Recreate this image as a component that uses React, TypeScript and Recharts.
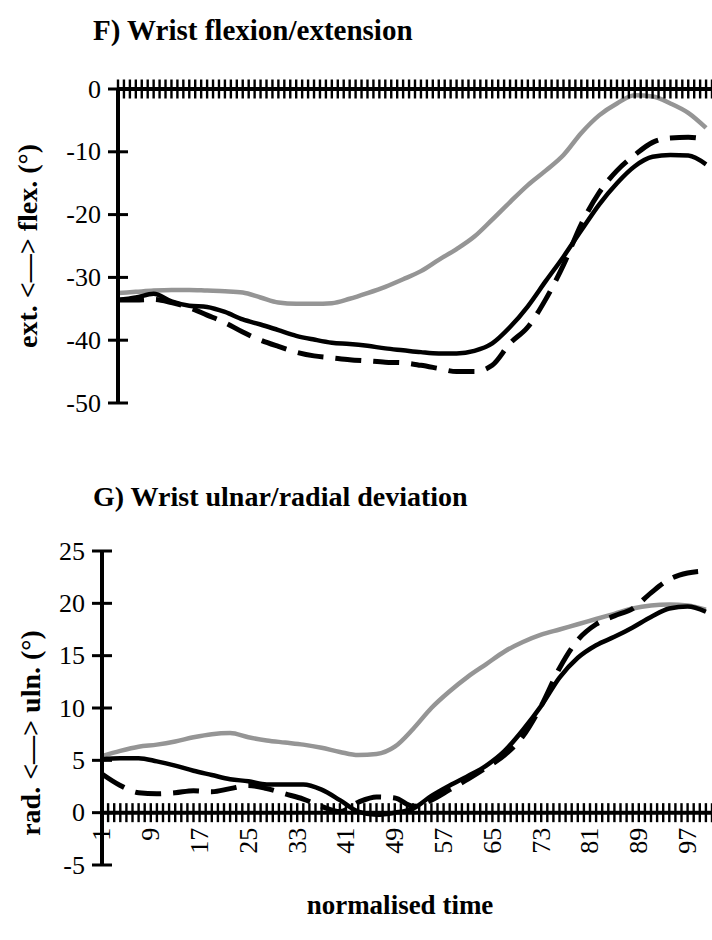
import React from "react";
import { ComposedChart, Line, XAxis, YAxis, ReferenceLine, Scatter } from "recharts";

// sample times (normalised time, %)
const TIME = [1, 4, 7, 10, 13, 16, 19, 22, 25, 28, 31, 34, 37, 40, 43, 46, 49, 52, 55, 58, 61, 64, 67, 70, 73, 76, 79, 82, 85, 88, 91, 94, 97, 100];

// F) Wrist flexion/extension
const FLEX_GRAY = [-32.5, -32.3, -32.1, -32.0, -32.0, -32.1, -32.2, -32.4, -33.2, -34.0, -34.2, -34.2, -34.1, -33.4, -32.5, -31.5, -30.3, -29.0, -27.2, -25.5, -23.5, -20.8, -18.0, -15.3, -13.0, -10.5, -7.0, -4.2, -2.3, -1.0, -1.2, -2.3, -3.8, -6.2];
const FLEX_SOLID = [-33.6, -33.2, -32.6, -33.8, -34.5, -34.7, -35.5, -36.7, -37.5, -38.4, -39.3, -39.9, -40.4, -40.6, -40.9, -41.3, -41.6, -41.9, -42.1, -42.1, -41.7, -40.5, -37.9, -34.6, -30.6, -26.7, -22.5, -18.4, -15.0, -12.3, -10.8, -10.5, -10.6, -12.0];
const FLEX_DASHED = [-33.6, -33.6, -33.5, -34.0, -34.8, -36.0, -37.2, -38.7, -40.0, -41.0, -41.9, -42.5, -42.8, -43.1, -43.3, -43.5, -43.6, -44.0, -44.5, -45.0, -45.0, -44.0, -40.5, -37.9, -33.5, -28.0, -21.5, -16.5, -13.0, -10.5, -8.5, -7.8, -7.7, -8.0];

// G) Wrist ulnar/radial deviation
const DEV_GRAY = [5.4, 5.9, 6.3, 6.5, 6.8, 7.2, 7.5, 7.6, 7.2, 6.9, 6.7, 6.5, 6.2, 5.8, 5.5, 5.6, 6.3, 8.0, 10.0, 11.6, 13.0, 14.2, 15.4, 16.3, 17.0, 17.5, 18.0, 18.5, 19.0, 19.5, 19.8, 19.9, 19.8, 19.4];
const DEV_SOLID = [5.1, 5.2, 5.2, 4.9, 4.5, 4.0, 3.6, 3.2, 3.0, 2.7, 2.7, 2.7, 2.2, 1.2, 0.1, -0.2, 0.0, 0.4, 1.6, 2.6, 3.5, 4.5, 5.9, 7.9, 10.2, 12.9, 14.8, 16.0, 16.8, 17.7, 18.7, 19.5, 19.7, 19.2];
const DEV_DASHED = [3.7, 2.6, 1.9, 1.8, 1.9, 2.1, 2.0, 2.3, 2.6, 2.3, 1.8, 1.3, 0.6, 0.1, 1.0, 1.5, 1.4, 0.6, 1.2, 2.2, 3.2, 4.3, 5.5, 7.3, 10.2, 13.8, 16.5, 18.0, 18.8, 19.5, 21.0, 22.3, 22.9, 23.1];

// axis ticks
const FLEX_YTICKS = [-50, -40, -30, -20, -10, 0];
const DEV_YTICKS = [-5, 0, 5, 10, 15, 20, 25];
const X_CATEGORIES = Array.from({ length: 101 }, (_, i) => i + 1);
const X_TICK_LABELS = ["1", "9", "17", "25", "33", "41", "49", "57", "65", "73", "81", "89", "97"];

const FONT = '"Liberation Serif", "Times New Roman", serif';

const flexRows = TIME.map((t, i) => ({ t, gray: FLEX_GRAY[i], solid: FLEX_SOLID[i], dashed: FLEX_DASHED[i] }));
const devRows = TIME.map((t, i) => ({ t, gray: DEV_GRAY[i], solid: DEV_SOLID[i], dashed: DEV_DASHED[i] }));
const tickRows = X_CATEGORIES.map((t) => ({ t, zero: 0 }));

const YTick = (props: any) => {
  const { x, y, payload } = props;
  return (
    <g>
      <line x1={x - 10} x2={x + 10} y1={y} y2={y} stroke="#000" strokeWidth={3} />
      <text x={x - 17} y={y} textAnchor="end" dominantBaseline="central" fontSize={26} fontFamily={FONT} fill="#000">
        {payload.value}
      </text>
    </g>
  );
};

const makeXTick = (withLabels: boolean) => (props: any) => {
  const { cx, cy, payload } = props;
  const lbl = String(payload.t);
  const show = withLabels && X_TICK_LABELS.includes(lbl);
  return (
    <g>
      <line x1={cx} x2={cx} y1={cy - 9.5} y2={cy + 9.5} stroke="#000" strokeWidth={2.4} />
      {show ? (
        <text
          x={cx}
          y={cy + 15}
          transform={`rotate(-90 ${cx} ${cy + 15})`}
          textAnchor="end"
          dominantBaseline="central"
          fontSize={26}
          fontFamily={FONT}
          fill="#000"
        >
          {lbl}
        </text>
      ) : null}
    </g>
  );
};

const TopTick = makeXTick(false);
const BottomTick = makeXTick(true);

const Lbl = ({ x, y, rot, size, center, children }: any) => (
  <div
    style={{
      position: "absolute",
      left: x,
      top: y,
      transform: `${center ? "translate(-50%,-50%)" : "translateY(-50%)"}${rot ? " rotate(-90deg)" : ""}`,
      fontSize: size,
      fontWeight: "bold",
      whiteSpace: "nowrap",
      fontFamily: FONT,
      lineHeight: 1,
      color: "#000",
    }}
  >
    {children}
  </div>
);

const series = (keyPrefix: string) => [
  <Line key={keyPrefix + "g"} type="monotone" dataKey="gray" stroke="#959595" strokeWidth={4.5} dot={false} isAnimationActive={false} />,
  <Line key={keyPrefix + "s"} type="monotone" dataKey="solid" stroke="#000" strokeWidth={4.5} dot={false} isAnimationActive={false} />,
  <Line key={keyPrefix + "d"} type="monotone" dataKey="dashed" stroke="#000" strokeWidth={5} strokeDasharray="26 12" dot={false} isAnimationActive={false} />,
];

export default function App() {
  return (
    <div style={{ position: "absolute", left: 0, top: 0, width: 712, height: 940, background: "#fff", overflow: "hidden" }}>
      <Lbl x={93} y={30} size={29}>F) Wrist flexion/extension</Lbl>
      <Lbl x={28} y={246} size={28} rot center>ext. &lt;—&gt; flex. (°)</Lbl>
      <div style={{ position: "absolute", left: 0, top: 0 }}>
        <ComposedChart width={712} height={440} data={flexRows} margin={{ top: 89, right: 0, bottom: 37, left: 0 }}>
          <XAxis type="number" dataKey="t" domain={[1, 101]} hide />
          <YAxis
            type="number"
            domain={[-50, 0]}
            ticks={FLEX_YTICKS}
            width={118}
            axisLine={{ stroke: "#000", strokeWidth: 4 }}
            tickLine={false}
            tickSize={0}
            tickMargin={0}
            tick={<YTick />}
            interval={0}
          />
          <ReferenceLine y={0} stroke="#000" strokeWidth={4} />
          <Scatter data={tickRows} dataKey="zero" shape={TopTick} isAnimationActive={false} />
          {series("f")}
        </ComposedChart>
      </div>

      <Lbl x={93} y={497} size={28}>G) Wrist ulnar/radial deviation</Lbl>
      <Lbl x={31} y={733} size={28} rot center>rad. &lt;—&gt; uln. (°)</Lbl>
      <div style={{ position: "absolute", left: 0, top: 460 }}>
        <ComposedChart width={712} height={440} data={devRows} margin={{ top: 91, right: 0, bottom: 35, left: 0 }}>
          <XAxis type="number" dataKey="t" domain={[1, 101]} hide />
          <YAxis
            type="number"
            domain={[-5, 25]}
            ticks={DEV_YTICKS}
            width={102}
            axisLine={{ stroke: "#000", strokeWidth: 4 }}
            tickLine={false}
            tickSize={0}
            tickMargin={0}
            tick={<YTick />}
            interval={0}
          />
          <ReferenceLine y={0} stroke="#000" strokeWidth={4} />
          {series("g")}
          <Scatter data={tickRows} dataKey="zero" shape={BottomTick} isAnimationActive={false} />
        </ComposedChart>
      </div>
      <Lbl x={400} y={905} size={27} center>normalised time</Lbl>
    </div>
  );
}
